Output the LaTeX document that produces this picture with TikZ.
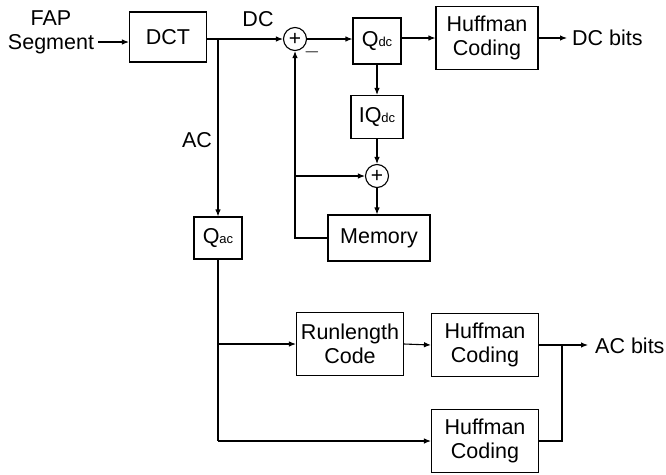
\documentclass[tikz,border=0pt]{standalone}
\usepackage{fontspec}
\setmainfont{Liberation Sans}
\usetikzlibrary{arrows.meta}
\newcommand{\sbs}[1]{{\fontsize{13}{13}\selectfont #1}}
\begin{document}
\begin{tikzpicture}[x=1pt,y=-1pt,
  every node/.style={font=\fontsize{21.5}{24}\selectfont, inner sep=0pt},
  blk/.style={draw, line width=1.1pt, align=center},
  sumnode/.style={draw, circle, line width=1.1pt, minimum size=23pt},
  lbl/.style={align=center},
  conn/.style={line width=1.1pt},
  arr/.style={conn, -{Latex[length=7pt,width=5.5pt]}}]
\useasboundingbox (0,0) rectangle (666,474);
\node[lbl] (fap) at (51,32) {FAP\\Segment};
\node[blk, minimum width=77pt, minimum height=50pt] (dct) at (168,37) {DCT};
\node[sumnode] (sum1) at (295,39) {};
\node[font=\fontsize{21}{21}\selectfont] (plus1) at (sum1) {+};
\node[blk, minimum width=48pt, minimum height=46pt] (qdc) at (377,41) {Q\sbs{dc}};
\node[blk, minimum width=102pt, minimum height=63pt] (huf1) at (487,38) {Huffman\\Coding};
\node[lbl, anchor=west] (dcbits) at (572,38) {DC bits};
\node[blk, minimum width=52pt, minimum height=43pt] (iqdc) at (377,117) {IQ\sbs{dc}};
\node[sumnode] (sum2) at (377,176) {};
\node[font=\fontsize{21}{21}\selectfont] (plus2) at (sum2) {+};
\node[blk, minimum width=102pt, minimum height=46pt] (mem) at (379,238) {Memory};
\node[blk, minimum width=48pt, minimum height=42pt] (qac) at (218,238) {Q\sbs{ac}};
\node[blk, minimum width=107pt, minimum height=63pt] (run) at (350,344) {Runlength\\Code};
\node[blk, minimum width=107pt, minimum height=63pt] (huf2) at (485,345) {Huffman\\Coding};
\node[blk, minimum width=107pt, minimum height=63pt] (huf3) at (485,441) {Huffman\\Coding};
\node[lbl, anchor=west] (acbits) at (595,346) {AC bits};
\node[lbl] (dclbl) at (258,19) {DC};
\node[lbl] (aclbl) at (197,140) {AC};
\node[font=\fontsize{20}{20}\selectfont] (minus) at (312,52) {$-$};
% connectors
\draw[arr] ([yshift=-10pt,xshift=4pt]fap.east) -- ([yshift=-5pt]dct.west);
\draw[arr] (dct.east |- sum1) -- (sum1.west);
\coordinate (b1) at (qac.north |- sum1);
\draw[arr] (b1) -- (qac.north);
\draw[arr] (sum1.east) -- (qdc.west |- sum1);
\draw[arr] (qdc.east |- huf1) -- (huf1.west);
\draw[arr] (huf1.east) -- ([xshift=-5pt]dcbits.west);
\draw[arr] (qdc.south) -- (iqdc.north);
\draw[arr] (iqdc.south) -- (sum2.north);
\draw[arr] (sum2.south) -- (mem.north -| sum2);
\draw[arr] (mem.west) -| (sum1.south);
\coordinate (b2) at (sum1 |- sum2);
\draw[arr] (b2) -- (sum2.west);
\coordinate (b3) at (qac.south |- run);
\draw[conn] (qac.south) -- (qac.south |- huf3);
\draw[arr] (qac.south |- huf3) -- (huf3.west);
\draw[arr] (b3) -- (run.west);
\draw[arr] (run.east) -- (huf2.west);
\coordinate (j) at (562,345);
\draw[arr] (huf2.east) -- ([xshift=-7pt]acbits.west |- huf2);
\draw[conn] (huf3.east) -| (j);
\end{tikzpicture}
\end{document}
